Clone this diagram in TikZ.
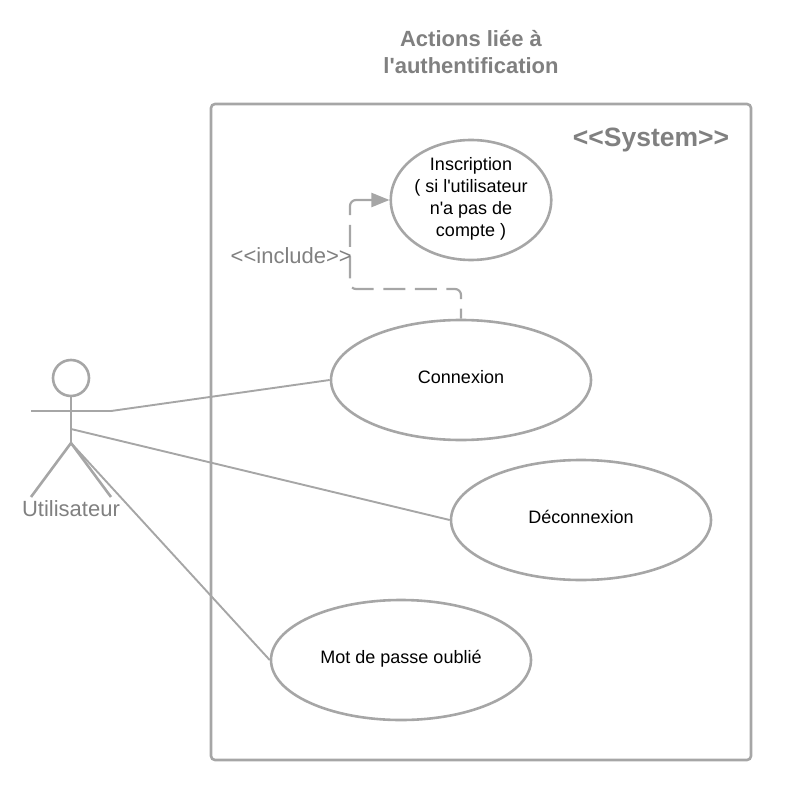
\documentclass[tikz,border=0pt]{standalone}
\usepackage{fontspec}
\setmainfont{Liberation Sans}
\usetikzlibrary{shapes.geometric,arrows.meta}
\definecolor{linegray}{HTML}{A6A6A6}
\definecolor{textgray}{HTML}{808080}
\tikzset{
    usecase/.style={draw=linegray,line width=2.6pt,ellipse,minimum width=260pt,minimum height=120pt,inner sep=0pt,align=center,font=\fontsize{18}{21.7}\selectfont,text=black,text depth=6pt},
    link/.style={draw=linegray,line width=1.9pt},
    figure/.style={draw=linegray,line width=2.6pt},
    graytext/.style={text=textgray,inner sep=0pt}
}
\begin{document}
\begin{tikzpicture}[x=1pt,y=-1pt]
    \useasboundingbox (0,0) rectangle (791,799);
    \node[graytext,align=center,font=\fontsize{22}{27}\selectfont\bfseries] (title) at (471,52) {Actions liée à\\l\textquotesingle authentification};
    \draw[figure,rounded corners=4pt] (211,104) rectangle (751,760);
    \node[graytext,font=\fontsize{26.5}{30}\selectfont\bfseries] (system) at (651,140) {<{}<System>{}>};
    % cas d'utilisation
    \node[usecase,minimum width=160pt] (inscription) at (471,200) {Inscription\\( si l\textquotesingle utilisateur\\n\textquotesingle a pas de\\compte )};
    \node[usecase] (connexion) at (461,380) {Connexion};
    \node[usecase] (deconnexion) at (581,520) {Déconnexion};
    \node[usecase] (oubli) at (401,660) {Mot de passe oublié};
    % acteur
    \node[figure,circle,minimum size=36pt,inner sep=0pt] (tete) at (71,378) {};
    \coordinate (brasg) at (31,411);
    \coordinate (brasd) at (111,411);
    \coordinate (bassin) at (71,443);
    \coordinate (torse) at (71,429);
    \coordinate (piedg) at (31,497);
    \coordinate (piedd) at (111,497);
    \draw[figure] (tete) -- (bassin);
    \draw[figure] (brasg) -- (brasd);
    \draw[figure] (piedg) -- (bassin) -- (piedd);
    \node[graytext,font=\fontsize{22}{26}\selectfont] (utilisateur) at (71,509) {Utilisateur};
    % liens
    \draw[link] (brasd) -- (connexion.west);
    \draw[link] (torse) -- (deconnexion.west);
    \draw[link] (bassin) -- (oubli.west);
    \coordinate (coude) at (350,215);
    \draw[link,line width=2.2pt,dash pattern=on 22pt off 9.6pt,dash phase=12pt,rounded corners=6pt] (connexion.north) -- (461,289) -- (350,289) -- (coude);
    \draw[link,line width=2.2pt,rounded corners=6pt,-{Triangle[length=18pt,width=14pt]}] (coude) -- (350,200) -- (inscription.west);
    \node[graytext,font=\fontsize{22}{26}\selectfont,anchor=east] (include) at (352,256) {<{}<include>{}>};
\end{tikzpicture}
\end{document}
